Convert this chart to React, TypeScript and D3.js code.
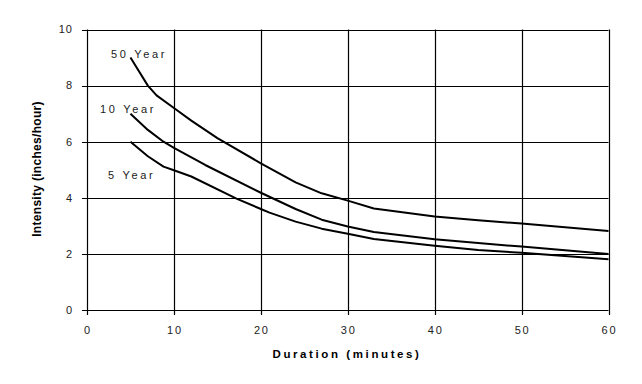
import React from "react";
import * as d3 from "d3";

const durations50 = [5, 7, 8, 10, 12, 15, 20, 24, 27, 30, 33, 40, 45, 50, 60];
const values50 = [9.0, 8.0, 7.65, 7.2, 6.75, 6.13, 5.23, 4.55, 4.16, 3.9, 3.62, 3.33, 3.2, 3.08, 2.82];
const durations10 = [5, 7, 8.8, 10, 13.6, 20, 24, 27, 30, 33, 40, 50, 60];
const values10 = [7.0, 6.42, 6.0, 5.78, 5.17, 4.18, 3.6, 3.22, 2.98, 2.78, 2.52, 2.26, 2.0];
const durations5 = [5, 7, 8.8, 10, 12, 17.2, 20, 21, 24, 27, 30, 33, 40, 45, 50, 60];
const values5 = [6.0, 5.48, 5.11, 4.98, 4.76, 3.97, 3.6, 3.47, 3.15, 2.9, 2.72, 2.53, 2.29, 2.14, 2.04, 1.81];
const seriesNames = ["50 Year", "10 Year", "5 Year"];
const xTicks = [0, 10, 20, 30, 40, 50, 60];
const yTicks = [0, 2, 4, 6, 8, 10];
const xTitle = "Duration (minutes)";
const yTitle = "Intensity (inches/hour)";

const W = 642, H = 384;
const L = 87, R = 608.5, T = 29.5, B = 310;

export default function App() {
  const x = d3.scaleLinear().domain([0, 60]).range([L, R]);
  const y = d3.scaleLinear().domain([0, 10]).range([B, T]);
  const series = [
    { name: seriesNames[0], xs: durations50, ys: values50, lx: 111, ly: 54 },
    { name: seriesNames[1], xs: durations10, ys: values10, lx: 100, ly: 109 },
    { name: seriesNames[2], xs: durations5, ys: values5, lx: 108, ly: 175 },
  ];
  const line = d3
    .line<[number, number]>()
    .x((d) => x(d[0]))
    .y((d) => y(d[1]))
    .curve(d3.curveLinear);
  const font = "'Liberation Sans', Arial, sans-serif";
  const px = (v: number) => Math.round(v) + 0.5;
  return (
    <svg
      width={W}
      height={H}
      style={{ position: "absolute", left: 0, top: 0, background: "#fff" }}
    >
      <rect x={0} y={0} width={W} height={H} fill="#fff" />
      {yTicks.map((t) => (
        <g key={"y" + t}>
          <line x1={L - 5} x2={R} y1={px(y(t))} y2={px(y(t))} stroke="#000" strokeWidth={1.2} />
          <text
            x={73}
            y={y(t)}
            dy="0.35em"
            textAnchor="end"
            fontFamily={font}
            fontSize={11}
            letterSpacing={1}
            fill="#222"
          >
            {t}
          </text>
        </g>
      ))}
      {xTicks.map((t) => (
        <g key={"x" + t}>
          <line x1={px(x(t))} x2={px(x(t))} y1={T} y2={B + 5} stroke="#000" strokeWidth={1.2} />
          <text
            x={x(t) + 1}
            y={330}
            dy="0.35em"
            textAnchor="middle"
            fontFamily={font}
            fontSize={11}
            letterSpacing={1.8}
            fill="#222"
          >
            {t}
          </text>
        </g>
      ))}
      {series.map((s) => (
        <g key={s.name}>
          <path
            d={line(s.xs.map((d, i) => [d, s.ys[i]] as [number, number])) || ""}
            fill="none"
            stroke="#000"
            strokeWidth={2}
            strokeLinejoin="round"
          />
          <text
            x={s.lx}
            y={s.ly}
            dy="0.35em"
            fontFamily={font}
            fontSize={11}
            letterSpacing={2.7}
            fill="#222"
          >
            {s.name}
          </text>
        </g>
      ))}
      <text
        x={347}
        y={354}
        dy="0.35em"
        textAnchor="middle"
        fontFamily={font}
        fontSize={11.5}
        fontWeight="bold"
        letterSpacing={2.6}
        fill="#000"
      >
        {xTitle}
      </text>
      <text
        transform={`translate(37,169) rotate(-90)`}
        dy="0.35em"
        textAnchor="middle"
        fontFamily={font}
        fontSize={12}
        fontWeight="bold"
        letterSpacing={0.3}
        fill="#000"
      >
        {yTitle}
      </text>
    </svg>
  );
}
